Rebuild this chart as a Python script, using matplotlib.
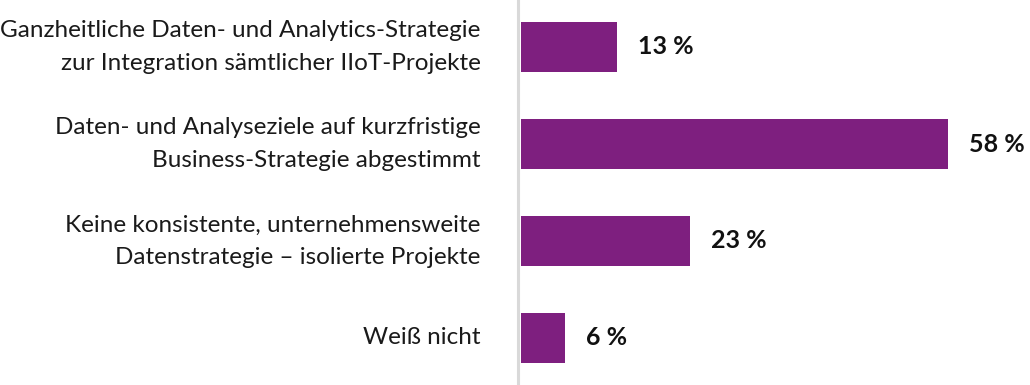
import matplotlib
matplotlib.use("Agg")
import matplotlib.pyplot as plt
from matplotlib.lines import Line2D

# data
categories = [
    "Ganzheitliche Daten- und Analytics-Strategie\nzur Integration sämtlicher IIoT-Projekte",
    "Daten- und Analyseziele auf kurzfristige\nBusiness-Strategie abgestimmt",
    "Keine konsistente, unternehmensweite\nDatenstrategie – isolierte Projekte",
    "Weiß nicht",
]
values = [13, 58, 23, 6]

BAR_COLOR = "#7e1f7f"
plt.rcParams["font.family"] = ["Lato", "DejaVu Sans"]

fig = plt.figure(figsize=(10.3, 3.85), dpi=100)
ax = fig.add_axes([521 / 1030, 0.0, 1 - 521 / 1030, 1.0])

ypos = list(range(len(categories)))
ax.barh(ypos, values, height=0.52, color=BAR_COLOR)

for y, v in zip(ypos, values):
    ax.annotate(f"{v} %", xy=(v, y), xytext=(15, 0), textcoords="offset points",
                va="center", ha="left", fontsize=18, fontweight="bold",
                color="#111111")

ax.set_xlim(0, 509 / 7.36)
ax.set_ylim(3 + 47 / 97, -47 / 97)
ax.set_yticks(ypos)
ax.set_yticklabels(categories, fontsize=17.5, color="#1a1a1a", linespacing=1.65)
for lbl in ax.get_yticklabels():
    lbl.set_verticalalignment("center")
ax.tick_params(axis="y", length=0, pad=29)
ax.set_xticks([])
for s in ax.spines.values():
    s.set_visible(False)

# light grey baseline left of the bars
fig.add_artist(Line2D([518 / 1030, 518 / 1030], [0, 1], color="#d9d9d9",
                      linewidth=2.2, transform=fig.transFigure))

fig.savefig("out.png", dpi=100)
